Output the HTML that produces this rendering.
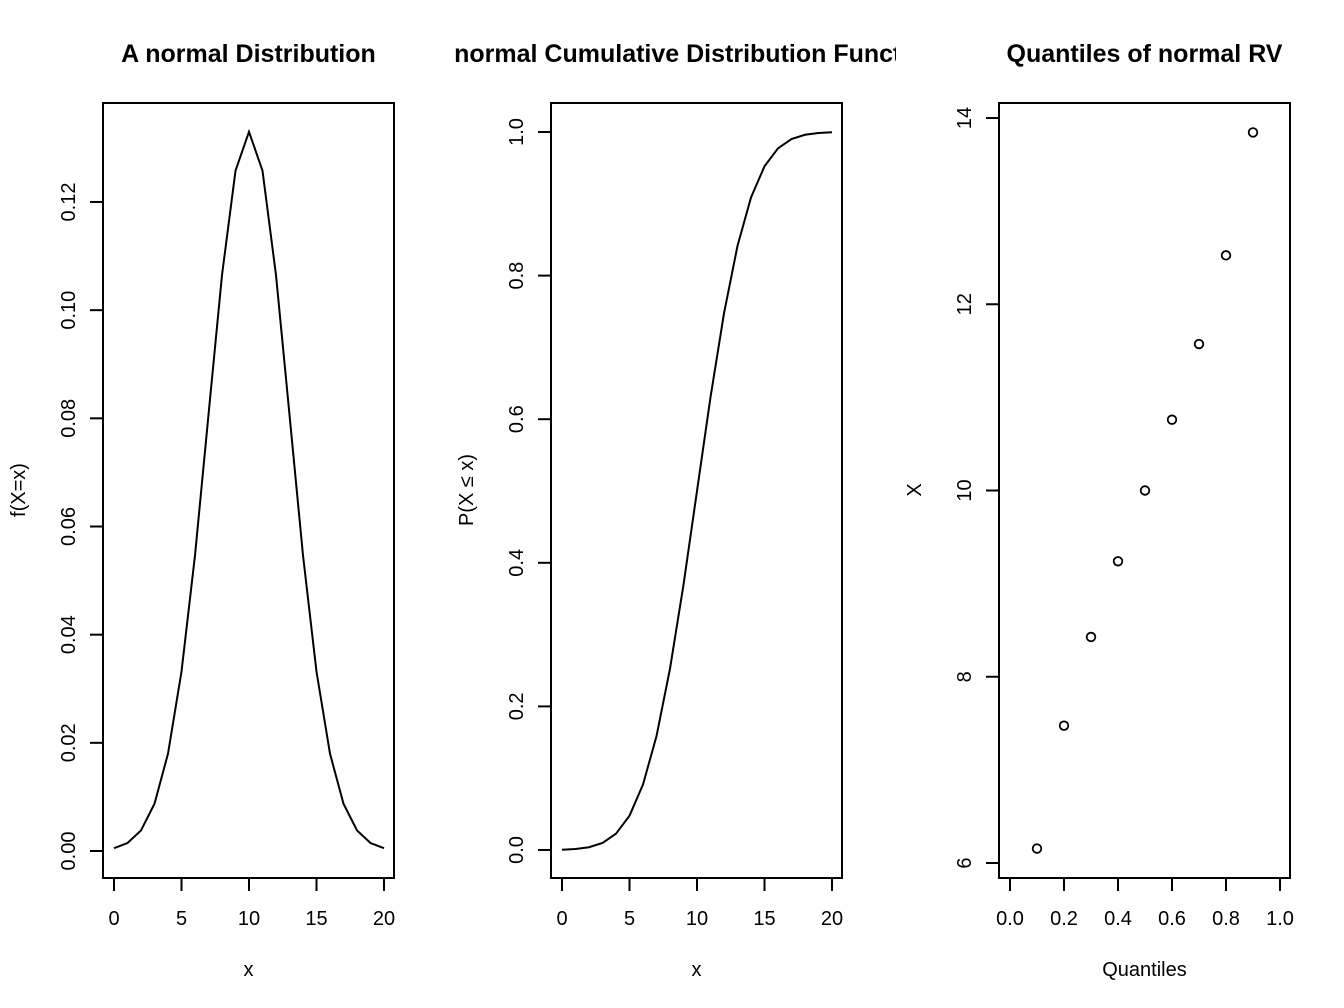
<!DOCTYPE html>
<html><head><meta charset="utf-8"><style>
html,body{margin:0;padding:0;background:#fff}
svg{display:block;font-family:"Liberation Sans",Arial,sans-serif}
</style></head><body>
<svg id="c" width="1344" height="1008" viewBox="0 0 1344 1008">
<defs>
<clipPath id="clip2"><rect x="448" y="0" width="448" height="1008"/></clipPath>
</defs>
</svg>
<script>
// Panel 1: density
const pdfX = [0,1,2,3,4,5,6,7,8,9,10,11,12,13,14,15,16,17,18,19,20];
const pdfY = [0.000514,0.00148,0.0038,0.00874,0.018,0.03316,0.05467,0.08066,0.10648,0.12579,0.13298,0.12579,0.10648,0.08066,0.05467,0.03316,0.018,0.00874,0.0038,0.00148,0.000514];
const pdfYTicks = [0,0.02,0.04,0.06,0.08,0.10,0.12];
const pdfYLabels = ["0.00","0.02","0.04","0.06","0.08","0.10","0.12"];
// Panel 2: CDF
const cdfX = [0,1,2,3,4,5,6,7,8,9,10,11,12,13,14,15,16,17,18,19,20];
const cdfY = [0.00043,0.00135,0.00383,0.00982,0.02275,0.04779,0.09121,0.15866,0.25249,0.36944,0.5,0.63056,0.74751,0.84134,0.90879,0.95221,0.97725,0.99018,0.99617,0.99865,0.99957];
const cdfYTicks = [0,0.2,0.4,0.6,0.8,1.0];
const cdfYLabels = ["0.0","0.2","0.4","0.6","0.8","1.0"];
// Panel 3: quantiles
const qP = [0.1,0.2,0.3,0.4,0.5,0.6,0.7,0.8,0.9];
const qX = [6.155,7.475,8.427,9.24,10,10.76,11.573,12.525,13.845];
const qYTicks = [6,8,10,12,14];
const qXTicks = [0,0.2,0.4,0.6,0.8,1.0];
const qXLabels = ["0.0","0.2","0.4","0.6","0.8","1.0"];
const xTicks = [0,5,10,15,20];

const svg = document.getElementById('c');
const NS = 'http://www.w3.org/2000/svg';
function el(tag, attrs, parent){
  const e = document.createElementNS(NS, tag);
  for (const k in attrs) e.setAttribute(k, attrs[k]);
  (parent||svg).appendChild(e);
  return e;
}
function txt(s, x, y, size, attrs, parent){
  const t = el('text', Object.assign({x:x, y:y, 'font-size':size, 'text-anchor':'middle', fill:'#000'}, attrs||{}), parent);
  t.textContent = s;
  return t;
}
function lin(d0,d1,p0,p1){ return v => p0 + (v-d0)*(p1-p0)/(d1-d0); }

function panel(o){
  const g = el('g', {}); 
  
  
  if (o.clip) g.setAttribute('clip-path', o.clip);
  const L=o.box[0], R=o.box[1], T=103, B=878;
  const box = el('rect',{x:L,y:T,width:R-L,height:B-T,fill:'none',stroke:'#000','stroke-width':2},g);
   
  const t = txt(o.title,(L+R)/2,62,25,{'font-weight':'bold'},g);
   
  const xa = el('g',{},g);
   
  el('line',{x1:o.sx(o.xt[0]),x2:o.sx(o.xt[o.xt.length-1]),y1:B,y2:B,stroke:'#000','stroke-width':2},xa);
  o.xt.forEach((v,i)=>{
    el('line',{x1:o.sx(v),x2:o.sx(v),y1:B,y2:B+13,stroke:'#000','stroke-width':2},xa);
    const l = txt(o.xl[i],o.sx(v),925,20,{},xa);
     
  });
  const xt = txt(o.xtitle,(L+R)/2,976,20,{},g);
   
  const ya = el('g',{},g);
   
  el('line',{x1:L,x2:L,y1:o.sy(o.yt[0]),y2:o.sy(o.yt[o.yt.length-1]),stroke:'#000','stroke-width':2},ya);
  o.yt.forEach((v,i)=>{
    const y=o.sy(v);
    el('line',{x1:L,x2:L-13,y1:y,y2:y,stroke:'#000','stroke-width':2},ya);
    const l = txt(o.yl[i],L-28,y,20,{transform:`rotate(-90 ${L-28} ${y})`},ya);
     
  });
  const yx = L-78, yy = 490;
  const yt = txt(o.ytitle,yx,yy,20,{transform:`rotate(-90 ${yx} ${yy})`},g);
   
  return g;
}

{
  const sx = lin(0,20,114,384), sy = lin(0,0.12,851,202);
  const g = panel({name:'density-panel',box:[103,394],title:'A normal Distribution',sx,sy,xt:xTicks,xl:xTicks.map(String),yt:pdfYTicks,yl:pdfYLabels,xtitle:'x',ytitle:'f(X=x)'});
  const p = el('polyline',{points:pdfX.map((x,i)=>sx(x)+','+sy(pdfY[i])).join(' '),fill:'none',stroke:'#000','stroke-width':2},g);
   
}
{
  const sx = lin(0,20,562,832), sy = lin(0,1,850,132);
  const g = panel({name:'cdf-panel',box:[551,842],title:'normal Cumulative Distribution Function',clip:'url(#clip2)',sx,sy,xt:xTicks,xl:xTicks.map(String),yt:cdfYTicks,yl:cdfYLabels,xtitle:'x',ytitle:'P(X \u2264 x)'});
  const p = el('polyline',{points:cdfX.map((x,i)=>sx(x)+','+sy(cdfY[i])).join(' '),fill:'none',stroke:'#000','stroke-width':2},g);
   
}
{
  const sx = lin(0,1,1010,1280), sy = lin(6,14,863,118);
  const g = panel({name:'quantile-panel',box:[999,1290],title:'Quantiles of normal RV',sx,sy,xt:qXTicks,xl:qXLabels,yt:qYTicks,yl:qYTicks.map(String),xtitle:'Quantiles',ytitle:'X'});
  qP.forEach((p,i)=>{
    const c = el('circle',{cx:sx(p),cy:sy(qX[i]),r:4.3,fill:'none',stroke:'#000','stroke-width':1.8},g);
     
  });
}
</script>
</body></html>
